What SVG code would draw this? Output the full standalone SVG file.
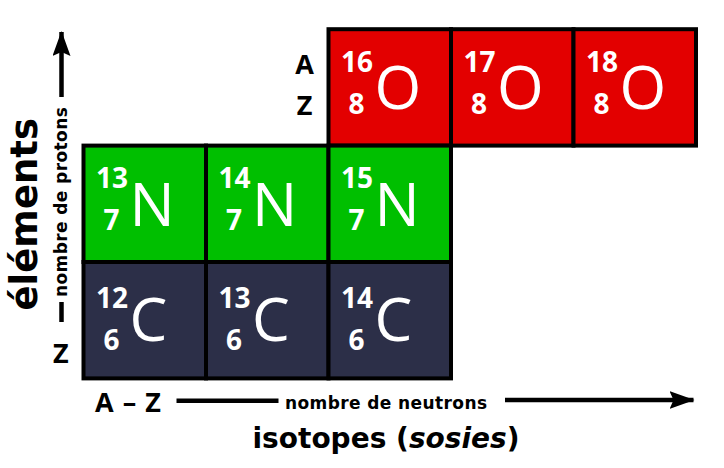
<svg xmlns="http://www.w3.org/2000/svg" width="724" height="468" viewBox="0 0 724 468">
<style>
.cell{stroke:#000;stroke-width:4}
.o{fill:#E30000}
.n{fill:#00BF00}
.c{fill:#2C2F48}
.num{font-family:"Open Sans","Liberation Sans",sans-serif;font-weight:700;font-size:28px;fill:#fff;text-anchor:end}
.sym{font-family:"Open Sans","Liberation Sans",sans-serif;font-weight:400;font-size:60px;fill:#fff}
.az{font-family:"Open Sans","Liberation Sans",sans-serif;font-weight:700;font-size:27px;fill:#000}
.lbl{font-family:"DejaVu Sans",sans-serif;font-weight:700;fill:#000}
.small{font-size:17px;letter-spacing:0.4px}
.big{font-size:28px}
.ax{stroke:#000;stroke-width:4.5;fill:none}
</style>
<defs>
<marker id="ah" viewBox="0 0 25 18" refX="24" refY="9" markerWidth="25" markerHeight="18" markerUnits="userSpaceOnUse" orient="auto">
<path d="M0,0 L25,9 L0,18 L4,9 Z" fill="#000"/>
</marker>
</defs>
<rect width="724" height="468" fill="#fff"/>

<g id="O16"><rect class="cell o" x="328.5" y="29.2" width="122.5" height="116.4"/><text class="num" x="373" y="71.7">16</text><text class="num" x="364.5" y="114.3">8</text><text class="sym" x="374.5" y="108.8">O</text></g>
<g id="O17"><rect class="cell o" x="451" y="29.2" width="122.5" height="116.4"/><text class="num" x="495.5" y="71.7">17</text><text class="num" x="487" y="114.3">8</text><text class="sym" x="497" y="108.8">O</text></g>
<g id="O18"><rect class="cell o" x="573.5" y="29.2" width="122.5" height="116.4"/><text class="num" x="618" y="71.7">18</text><text class="num" x="609.5" y="114.3">8</text><text class="sym" x="619.5" y="108.8">O</text></g>

<g id="N13"><rect class="cell n" x="83.5" y="145.6" width="122.5" height="116.4"/><text class="num" x="128" y="188">13</text><text class="num" x="119.5" y="230">7</text><text class="sym" x="129.5" y="226">N</text></g>
<g id="N14"><rect class="cell n" x="206" y="145.6" width="122.5" height="116.4"/><text class="num" x="250.5" y="188">14</text><text class="num" x="242" y="230">7</text><text class="sym" x="252" y="226">N</text></g>
<g id="N15"><rect class="cell n" x="328.5" y="145.6" width="122.5" height="116.4"/><text class="num" x="373" y="188">15</text><text class="num" x="364.5" y="230">7</text><text class="sym" x="374.5" y="226">N</text></g>

<g id="C12"><rect class="cell c" x="83.5" y="262" width="122.5" height="116.4"/><text class="num" x="128" y="308">12</text><text class="num" x="119.5" y="350">6</text><text class="sym" x="129.5" y="341">C</text></g>
<g id="C13"><rect class="cell c" x="206" y="262" width="122.5" height="116.4"/><text class="num" x="250.5" y="308">13</text><text class="num" x="242" y="350">6</text><text class="sym" x="252" y="341">C</text></g>
<g id="C14"><rect class="cell c" x="328.5" y="262" width="122.5" height="116.4"/><text class="num" x="373" y="308">14</text><text class="num" x="364.5" y="350">6</text><text class="sym" x="374.5" y="341">C</text></g>

<g id="legend-AZ"><text class="az" x="304.5" y="74" text-anchor="middle">A</text><text class="az" x="304.5" y="115" text-anchor="middle">Z</text></g>

<g id="connectors">
<line class="ax" x1="61.5" y1="97" x2="61.5" y2="32" marker-end="url(#ah)"/>
<line class="ax" x1="61.5" y1="302" x2="61.5" y2="322"/>
<line class="ax" x1="176.5" y1="400.8" x2="278.5" y2="400.8"/>
<line class="ax" x1="505" y1="400" x2="693.5" y2="400" marker-end="url(#ah)"/>
</g>

<g id="axis-y">
<text class="lbl" font-size="37" transform="translate(36.5,310.5) rotate(-90)">éléments</text>
<text class="lbl small" transform="translate(66.5,297) rotate(-90)">nombre de protons</text>
<text class="az" x="60.8" y="363.3" text-anchor="middle">Z</text>
</g>

<g id="axis-x">
<text class="az" x="95" y="412.3" letter-spacing="1">A – Z</text>
<text class="lbl small" x="285" y="409.3">nombre de neutrons</text>
<text class="lbl big" x="252.5" y="448.3">isotopes (<tspan font-style="italic">sosies</tspan>)</text>
</g>
</svg>
